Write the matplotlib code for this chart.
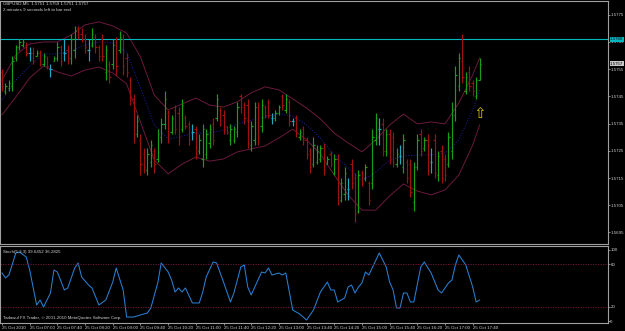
import matplotlib
matplotlib.use("Agg")
import matplotlib.pyplot as plt
import numpy as np

# ---------------- data ----------------
symbol_header = "GBPUSD,M5  1.5751 1.5759 1.5751 1.5757"
timer_text = "2 minutes 9 seconds left to bar end"
stoch_header = "Stoch(5,3,3) 39.6452 36.2825"
copyright_text = "Tadawul FX Trader, \u00a9 2001-2010 MetaQuotes Software Corp."

highs = [
    1.5755, 1.5750, 1.5751, 1.5760, 1.5764, 1.5766, 1.5766, 1.5765, 1.5763, 1.5763,
    1.5762, 1.5762, 1.5761, 1.5760, 1.5757, 1.5760, 1.5765, 1.5764, 1.5766, 1.5764,
    1.5768, 1.5771, 1.5771, 1.5770, 1.5768, 1.5766, 1.5770, 1.5768, 1.5764, 1.5768,
    1.5764, 1.5758, 1.5766, 1.5767, 1.5769, 1.5768, 1.5761, 1.5752, 1.5746, 1.5738,
    1.5731, 1.5726, 1.5726, 1.5729, 1.5726, 1.5733, 1.5737, 1.5747, 1.5740, 1.5738,
    1.5742, 1.5741, 1.5744, 1.5738, 1.5736, 1.5735, 1.5734, 1.5731, 1.5735, 1.5733,
    1.5735, 1.5737, 1.5746, 1.5741, 1.5740, 1.5734, 1.5735, 1.5734, 1.5743, 1.5746,
    1.5743, 1.5744, 1.5736, 1.5743, 1.5743, 1.5744, 1.5742, 1.5744, 1.5739, 1.5740,
    1.5742, 1.5746, 1.5746, 1.5744, 1.5737, 1.5738, 1.5733, 1.5734, 1.5730, 1.5726,
    1.5730, 1.5727, 1.5727, 1.5728, 1.5723, 1.5725, 1.5724, 1.5724, 1.5715, 1.5719,
    1.5715, 1.5722, 1.5717, 1.5718, 1.5718, 1.5720, 1.5714, 1.5733, 1.5739, 1.5737,
    1.5737, 1.5733, 1.5733, 1.5732, 1.5726, 1.5727, 1.5731, 1.5722, 1.5722, 1.5721,
    1.5731, 1.5733, 1.5730, 1.5731, 1.5726, 1.5731, 1.5725, 1.5727, 1.5724, 1.5732,
    1.5743, 1.5756, 1.5761, 1.5768, 1.5754, 1.5756, 1.5751, 1.5752, 1.5759]

lows = [
    1.5747, 1.5746, 1.5747, 1.5747, 1.5758, 1.5762, 1.5763, 1.5760, 1.5758, 1.5757,
    1.5760, 1.5756, 1.5756, 1.5755, 1.5752, 1.5758, 1.5758, 1.5756, 1.5758, 1.5757,
    1.5757, 1.5759, 1.5766, 1.5765, 1.5761, 1.5758, 1.5763, 1.5761, 1.5758, 1.5758,
    1.5751, 1.5750, 1.5755, 1.5753, 1.5761, 1.5753, 1.5752, 1.5742, 1.5728, 1.5730,
    1.5716, 1.5717, 1.5716, 1.5719, 1.5717, 1.5721, 1.5728, 1.5733, 1.5728, 1.5731,
    1.5731, 1.5727, 1.5732, 1.5733, 1.5727, 1.5729, 1.5722, 1.5724, 1.5719, 1.5722,
    1.5726, 1.5727, 1.5736, 1.5734, 1.5731, 1.5731, 1.5727, 1.5728, 1.5730, 1.5739,
    1.5735, 1.5726, 1.5725, 1.5727, 1.5727, 1.5732, 1.5737, 1.5737, 1.5735, 1.5736,
    1.5738, 1.5740, 1.5739, 1.5734, 1.5734, 1.5730, 1.5729, 1.5727, 1.5722, 1.5717,
    1.5719, 1.5720, 1.5721, 1.5716, 1.5720, 1.5719, 1.5716, 1.5705, 1.5706, 1.5707,
    1.5707, 1.5711, 1.5699, 1.5702, 1.5712, 1.5714, 1.5705, 1.5711, 1.5727, 1.5727,
    1.5723, 1.5723, 1.5720, 1.5719, 1.5719, 1.5720, 1.5717, 1.5713, 1.5708, 1.5703,
    1.5718, 1.5723, 1.5725, 1.5716, 1.5717, 1.5715, 1.5714, 1.5713, 1.5714, 1.5719,
    1.5722, 1.5736, 1.5747, 1.5750, 1.5746, 1.5747, 1.5745, 1.5744, 1.5751]

opens = [
    1.5754, 1.5747, 1.5748, 1.5749, 1.5759, 1.5763, 1.5764, 1.5764, 1.5761, 1.5761,
    1.5760, 1.5761, 1.5757, 1.5759, 1.5755, 1.5758, 1.5759, 1.5763, 1.5761, 1.5762,
    1.5759, 1.5762, 1.5770, 1.5768, 1.5766, 1.5762, 1.5764, 1.5767, 1.5763, 1.5766,
    1.5754, 1.5757, 1.5757, 1.5765, 1.5762, 1.5766, 1.5759, 1.5751, 1.5744, 1.5731,
    1.5729, 1.5724, 1.5718, 1.5721, 1.5725, 1.5722, 1.5730, 1.5735, 1.5739, 1.5732,
    1.5740, 1.5739, 1.5733, 1.5737, 1.5735, 1.5732, 1.5733, 1.5725, 1.5722, 1.5724,
    1.5728, 1.5735, 1.5737, 1.5740, 1.5738, 1.5734, 1.5729, 1.5729, 1.5732, 1.5745,
    1.5742, 1.5742, 1.5727, 1.5729, 1.5741, 1.5734, 1.5741, 1.5743, 1.5737, 1.5737,
    1.5739, 1.5745, 1.5740, 1.5743, 1.5736, 1.5737, 1.5730, 1.5733, 1.5729, 1.5725,
    1.5720, 1.5721, 1.5722, 1.5726, 1.5720, 1.5724, 1.5717, 1.5722, 1.5707, 1.5709,
    1.5711, 1.5720, 1.5715, 1.5703, 1.5717, 1.5715, 1.5713, 1.5713, 1.5729, 1.5733,
    1.5735, 1.5725, 1.5731, 1.5730, 1.5720, 1.5723, 1.5719, 1.5721, 1.5720, 1.5706,
    1.5719, 1.5731, 1.5726, 1.5729, 1.5721, 1.5729, 1.5716, 1.5725, 1.5722, 1.5720,
    1.5725, 1.5738, 1.5749, 1.5758, 1.5747, 1.5754, 1.5750, 1.5745, 1.5751]

closes = [
    1.5749, 1.5749, 1.5750, 1.5758, 1.5763, 1.5765, 1.5765, 1.5761, 1.5761, 1.5758,
    1.5761, 1.5757, 1.5760, 1.5756, 1.5755, 1.5759, 1.5763, 1.5758, 1.5761, 1.5759,
    1.5766, 1.5769, 1.5767, 1.5766, 1.5763, 1.5762, 1.5768, 1.5763, 1.5760, 1.5760,
    1.5762, 1.5752, 1.5764, 1.5756, 1.5767, 1.5756, 1.5754, 1.5744, 1.5731, 1.5736,
    1.5720, 1.5719, 1.5724, 1.5727, 1.5720, 1.5731, 1.5735, 1.5744, 1.5731, 1.5737,
    1.5733, 1.5730, 1.5742, 1.5734, 1.5729, 1.5732, 1.5724, 1.5729, 1.5733, 1.5731,
    1.5733, 1.5729, 1.5744, 1.5735, 1.5733, 1.5732, 1.5733, 1.5733, 1.5741, 1.5741,
    1.5737, 1.5728, 1.5734, 1.5741, 1.5730, 1.5742, 1.5738, 1.5738, 1.5737, 1.5739,
    1.5741, 1.5742, 1.5744, 1.5736, 1.5736, 1.5732, 1.5732, 1.5729, 1.5724, 1.5719,
    1.5727, 1.5725, 1.5726, 1.5718, 1.5722, 1.5720, 1.5722, 1.5708, 1.5713, 1.5717,
    1.5711, 1.5713, 1.5702, 1.5716, 1.5713, 1.5719, 1.5707, 1.5730, 1.5737, 1.5733,
    1.5725, 1.5731, 1.5722, 1.5721, 1.5724, 1.5723, 1.5729, 1.5715, 1.5710, 1.5719,
    1.5729, 1.5725, 1.5729, 1.5718, 1.5721, 1.5717, 1.5723, 1.5715, 1.5716, 1.5730,
    1.5740, 1.5753, 1.5759, 1.5752, 1.5752, 1.5749, 1.5747, 1.5751, 1.5757]

# Bollinger bands read at every 4th bar
band_idx = [0, 4, 8, 12, 16, 20, 24, 28, 32, 36, 40, 44, 48, 52, 56, 60, 64, 68,
            72, 76, 80, 84, 88, 92, 96, 100, 104, 108, 112, 116, 120, 124, 128,
            132, 136, 138]
band_upper = [1.57510, 1.57602, 1.57643, 1.57650, 1.57650, 1.57676, 1.57713,
              1.57724, 1.57709, 1.57683, 1.57595, 1.57455, 1.57400, 1.57422,
              1.57444, 1.57418, 1.57411, 1.57430, 1.57463, 1.57485, 1.57474,
              1.57441, 1.57407, 1.57367, 1.57315, 1.57279, 1.57246, 1.57290,
              1.57345, 1.57385, 1.57349, 1.57356, 1.57349, 1.57426, 1.57529,
              1.57591]
band_middle = [1.57437, 1.57510, 1.57562, 1.57606, 1.57606, 1.57617, 1.57639,
               1.57650, 1.57646, 1.57613, 1.57481, 1.57345, 1.57293, 1.57304,
               1.57315, 1.57315, 1.57326, 1.57349, 1.57363, 1.57374, 1.57385,
               1.57378, 1.57345, 1.57297, 1.57234, 1.57187, 1.57139, 1.57172,
               1.57216, 1.57231, 1.57235, 1.57235, 1.57242, 1.57290, 1.57400,
               1.57474]
band_lower = [1.57382, 1.57448, 1.57518, 1.57562, 1.57540, 1.57525, 1.57547,
              1.57558, 1.57536, 1.57496, 1.57356, 1.57216, 1.57165, 1.57201,
              1.57227, 1.57212, 1.57220, 1.57246, 1.57257, 1.57268, 1.57297,
              1.57330, 1.57290, 1.57238, 1.57161, 1.57088, 1.57032, 1.57032,
              1.57084, 1.57128, 1.57102, 1.57088, 1.57106, 1.57161, 1.57271,
              1.57345]

# Stochastic main line (turning points)
stoch_idx = [0, 1, 2, 4, 5, 7, 8, 10, 11, 12, 14, 15, 16, 18, 19, 21, 22, 23, 25,
             26, 28, 30, 32, 33, 35, 36, 38, 40, 42, 43, 45, 46, 48, 49, 50, 51,
             52, 53, 55, 57, 58, 59, 61, 62, 64, 66, 67, 69, 70, 71, 72, 75, 76,
             77, 78, 80, 81, 82, 84, 86, 88, 90, 92, 94, 95, 96, 97, 99, 100, 101,
             102, 103, 104, 105, 106, 109, 111, 112, 113, 114, 115, 116, 117, 118,
             119, 121, 122, 124, 126, 127, 129, 130, 131, 132, 134, 136, 137, 138]
stoch_val = [67.6, 60.6, 64.8, 95.8, 97.2, 90.1, 71.8, 22.5, 29.6, 19.7, 39.4,
             71.8, 69.0, 43.7, 46.5, 74.6, 81.7, 62.0, 50.7, 46.5, 22.5, 29.6,
             54.9, 74.6, 43.7, 5.6, 5.6, 8.5, 11.3, 18.3, 53.5, 81.7, 69.0, 57.7,
             40.8, 46.5, 40.8, 46.5, 25.4, 25.4, 40.8, 62.0, 83.1, 81.7, 54.9,
             26.8, 39.4, 76.1, 78.9, 47.9, 36.6, 69.0, 67.6, 74.6, 64.8, 67.6,
             64.8, 67.6, 15.5, 9.9, 1.4, 15.5, 40.8, 54.9, 43.7, 43.7, 26.8, 32.4,
             47.9, 50.7, 39.4, 47.9, 53.5, 69.0, 64.8, 95.8, 76.1, 54.9, 43.7,
             18.3, 18.3, 39.4, 39.4, 26.8, 26.8, 76.1, 83.1, 67.6, 43.7, 39.4,
             53.5, 57.7, 78.9, 93.0, 78.9, 47.9, 26.8, 29.6]
stoch_levels = [20, 80]

price_ticks = [1.5775, 1.5765, 1.5755, 1.5745, 1.5735, 1.5725, 1.5715, 1.5705, 1.5695]
stoch_ticks = [0, 20, 80, 100]
hline_price = 1.5766
current_price = 1.5757
arrow_bar = 138
arrow_price = 1.57387

time_tick_idx = [0, 8, 16, 24, 32, 40, 48, 56, 64, 72, 80, 88, 96, 104, 112,
                 120, 128, 136]
time_tick_labels = ["25 Oct 2010", "25 Oct 07:00", "25 Oct 07:40", "25 Oct 08:20",
                    "25 Oct 09:00", "25 Oct 09:40", "25 Oct 10:20", "25 Oct 11:00",
                    "25 Oct 11:40", "25 Oct 12:20", "25 Oct 13:00", "25 Oct 13:40",
                    "25 Oct 14:20", "25 Oct 15:00", "25 Oct 15:40", "25 Oct 16:20",
                    "25 Oct 17:00", "25 Oct 17:40"]

# ---------------- style ----------------
BG = "#000000"
GRID = "#a0a0a0"
TXT = "#d0d0d0"
UP = "#17a017"
DN = "#a01010"
DOJI = "#20a8c0"
BAND = "#6a1a3c"
MID = "#1c1c90"
STOCH = "#2a7fd0"
LEVEL = "#7a1a40"
CYAN = "#00b8c0"
FONT = "Liberation Sans"
NARROW = ["Liberation Sans Narrow", "Liberation Sans"]
FS_AX = 3.2
FS_T = 3.2

W, H = 625, 331
fig = plt.figure(figsize=(W / 100, H / 100), dpi=100, facecolor=BG)
ax = fig.add_axes([0, 1 - 244 / H, 608 / W, 243 / H], facecolor=BG)
ax2 = fig.add_axes([0, 1 - 323 / H, 608 / W, 77 / H], facecolor=BG)

n = len(highs)
x = np.arange(n)
o = np.array(opens)
c = np.array(closes)
cols = [DOJI if np.isclose(oo, cc) else (UP if cc > oo else DN) for oo, cc in zip(o, c)]

ax.plot(band_idx, band_upper, color=BAND, lw=0.7)
ax.plot(band_idx, band_lower, color=BAND, lw=0.7)
ax.plot(band_idx, band_middle, color=MID, lw=0.7, ls=(0, (1.2, 1.6)))
ax.axhline(hline_price, color=CYAN, lw=0.8)

ax.vlines(x, lows, highs, colors=cols, lw=0.85)
ax.hlines(o, x - 0.38, x, colors=cols, lw=0.85)
ax.hlines(c, x, x + 0.38, colors=cols, lw=0.85)

ax.text(arrow_bar, arrow_price, "\u21e7", color="#d8c000", fontsize=11,
        ha="center", va="center", family="DejaVu Sans")

ax.set_xlim(-0.58, 175.1)
ax.set_ylim(1.569074, 1.578007)
ax.set_xticks([])
ax.yaxis.tick_right()
ax.set_yticks(price_ticks)
ax.set_yticklabels([f"{p:.4f}" for p in price_ticks], fontsize=FS_AX, family=FONT)
ax.tick_params(axis="y", colors=GRID, length=1.3, width=0.6, pad=0.4,
               labelcolor=TXT)

ytr = ax.get_yaxis_transform()
ax.text(1.0035, hline_price, f"{hline_price:.4f}", transform=ytr, fontsize=FS_AX,
        family=FONT, color="#000000", ha="left", va="center", clip_on=False,
        bbox=dict(boxstyle="square,pad=0.12", fc=CYAN, ec="none"))
ax.text(1.0035, current_price, f"{current_price:.4f}", transform=ytr,
        fontsize=FS_AX, family=FONT, color="#000000", ha="left", va="center",
        clip_on=False, bbox=dict(boxstyle="square,pad=0.12", fc="#c8c8c8", ec="none"))

# indicator
ax2.plot(stoch_idx, stoch_val, color=STOCH, lw=0.75)
for lv in stoch_levels:
    ax2.axhline(lv, color=LEVEL, lw=0.6, ls=(0, (1.5, 1.5)))
ax2.set_xlim(-0.58, 175.1)
ax2.set_ylim(-2.8, 105.6)
ax2.yaxis.tick_right()
ax2.set_yticks(stoch_ticks)
ax2.set_yticklabels([str(v) for v in stoch_ticks], fontsize=FS_AX, family=FONT)
ax2.tick_params(axis="y", colors=GRID, length=1.3, width=0.6, pad=0.4,
                labelcolor=TXT)
ax2.set_xticks(time_tick_idx)
ax2.set_xticklabels(time_tick_labels, fontsize=FS_T, family=NARROW)
for lab in ax2.get_xticklabels():
    lab.set_horizontalalignment("left")
ax2.tick_params(axis="x", colors=GRID, length=1.5, width=0.6, pad=0.6,
                labelcolor=TXT)

for a in (ax, ax2):
    for s in a.spines.values():
        s.set_color(GRID)
        s.set_linewidth(0.8)

ax2.text(0.005, 0.95, stoch_header, transform=ax2.transAxes, fontsize=FS_T,
         family=NARROW, color=TXT, ha="left", va="top")
ax2.text(0.005, 0.04, copyright_text, transform=ax2.transAxes, fontsize=FS_T,
         family=NARROW, color=TXT, ha="left", va="bottom")
fig.text(3 / W, 1 - 2 / H, symbol_header, fontsize=FS_T, family=NARROW, color=TXT,
         ha="left", va="top")
fig.text(3 / W, 1 - 8 / H, timer_text, fontsize=FS_T, family=NARROW, color=TXT,
         ha="left", va="top")

fig.savefig("out.png", dpi=100, facecolor=BG)
